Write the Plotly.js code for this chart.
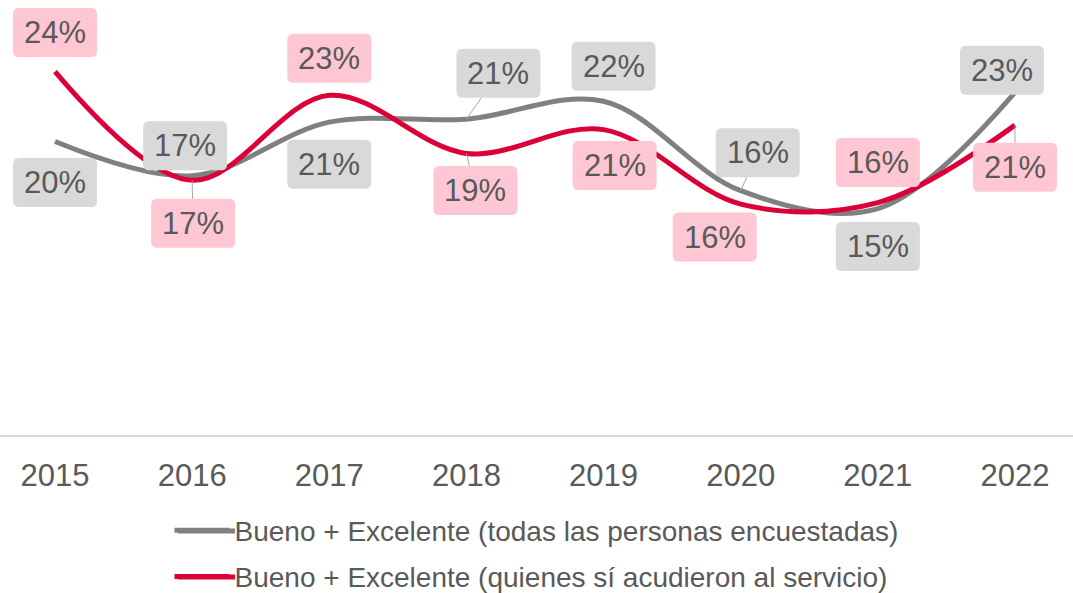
<!DOCTYPE html>
<html>
<head>
<meta charset="utf-8">
<script src="https://cdn.plot.ly/plotly-3.0.1.min.js"></script>
<style>
html,body{margin:0;padding:0;background:#fff;}
#chart{width:1073px;height:593px;}
</style>
</head>
<body>
<div id="chart"></div>
<script>
const years = ['2015','2016','2017','2018','2019','2020','2021','2022'];
const seriesNames = ['Bueno + Excelente (todas las personas encuestadas)',
                     'Bueno + Excelente (quienes sí acudieron al servicio)'];
const todas = [19.7, 17.4, 21.0, 21.2, 22.4, 16.4, 15.2, 23.0];
const acudieron = [24.4, 17.1, 22.8, 18.9, 20.5, 15.5, 15.6, 20.8];
const todasLabels = ['20%','17%','21%','21%','22%','16%','15%','23%'];
const acudieronLabels = ['24%','17%','23%','19%','21%','16%','16%','21%'];

// label placement (pixel offsets from point) and leader visibility
const todasOff = [[0,41],[-7,-30],[0,42],[32,-46],[10,-35],[17,-38],[0,38],[-13,-22]];
const todasLeader = [false,false,false,true,false,true,false,false];
const acudOff = [[0,-39],[1,43],[0,-37],[9,37],[11,36],[-26,33],[0,-40],[0,42]];
const acudLeader = [false,true,false,true,false,false,false,true];

const GRAY = '#808080', RED = '#DC0039';
const GRAYBOX = '#D9D9D9', PINKBOX = '#FFC7D3';
const TXT = '#595959';
const FONT = 'Liberation Sans, Arial, sans-serif';
const BOXW = 84, BOXH = 49, RAD = 6;
const W = 1073, H = 593, MB = 158, PH = H - MB;

const traces = [
  {x: years, y: todas, name: seriesNames[0], type: 'scatter', mode: 'lines',
   line: {color: GRAY, width: 5, shape: 'spline', smoothing: 1}, legendgroup: 'a', hoverinfo: 'skip'},
  {x: years, y: acudieron, name: seriesNames[1], type: 'scatter', mode: 'lines',
   line: {color: RED, width: 5, shape: 'spline', smoothing: 1}, legendgroup: 'b', hoverinfo: 'skip'}
];

function makeAnn(vals, labels, offs, leaders) {
  return vals.map((v, i) => ({
    x: i, y: v, xref: 'x', yref: 'y',
    text: labels[i], showarrow: true,
    ax: offs[i][0], ay: offs[i][1],
    arrowhead: 0, arrowwidth: 1,
    arrowcolor: leaders[i] ? '#A6A6A6' : 'rgba(0,0,0,0)',
    bgcolor: 'rgba(0,0,0,0)', borderpad: 7, borderwidth: 0,
    width: BOXW - 14, height: BOXH - 14,
    font: {family: FONT, size: 31, color: TXT}
  }));
}

function roundBox(cx, cy, w, h, r) {
  const xl = cx - w / 2, xr = cx + w / 2, yb = cy - h / 2, yt = cy + h / 2;
  return `M${xl + r},${yb} L${xr - r},${yb} Q${xr},${yb} ${xr},${yb + r} L${xr},${yt - r} Q${xr},${yt} ${xr - r},${yt} ` +
         `L${xl + r},${yt} Q${xl},${yt} ${xl},${yt - r} L${xl},${yb + r} Q${xl},${yb} ${xl + r},${yb} Z`;
}

function makeBoxes(vals, offs, fill) {
  return vals.map((v, i) => ({
    type: 'path', xref: 'x', yref: 'y',
    xsizemode: 'pixel', ysizemode: 'pixel', xanchor: i, yanchor: v,
    path: roundBox(offs[i][0], -offs[i][1], BOXW, BOXH, RAD),
    fillcolor: fill, line: {width: 0}, layer: 'above'
  }));
}

// longer legend swatches (paper coordinates)
const legendRowsPx = [531, 577];
const legendSwatches = [GRAY, RED].map((c, k) => ({
  type: 'line', xref: 'paper', yref: 'paper',
  x0: 178 / W, x1: 235 / W,
  y0: (PH - legendRowsPx[k]) / PH, y1: (PH - legendRowsPx[k]) / PH,
  line: {color: c, width: 5}, layer: 'above'
}));

const annotations = [].concat(
  makeAnn(todas, todasLabels, todasOff, todasLeader),
  makeAnn(acudieron, acudieronLabels, acudOff, acudLeader)
);
const shapes = [].concat(
  makeBoxes(todas, todasOff, GRAYBOX),
  makeBoxes(acudieron, acudOff, PINKBOX),
  legendSwatches
);

const layout = {
  width: W, height: H,
  margin: {l: 0, r: 0, t: 0, b: MB, pad: 0, autoexpand: false},
  paper_bgcolor: '#fff', plot_bgcolor: '#fff',
  font: {family: FONT, color: TXT},
  xaxis: {
    type: 'category', range: [-0.401, 7.423],
    showline: true, linecolor: '#D9D9D9', linewidth: 2,
    showgrid: false, zeroline: false,
    ticks: 'outside', ticklen: 12, tickcolor: 'rgba(0,0,0,0)',
    tickfont: {family: FONT, size: 31, color: TXT}
  },
  yaxis: {range: [0, 29.2], visible: false, showgrid: false, zeroline: false},
  showlegend: true,
  legend: {
    orientation: 'v', x: 0.5, xanchor: 'center', y: -0.162, yanchor: 'top',
    font: {family: FONT, size: 28, color: TXT}, tracegroupgap: 7,
    itemwidth: 55, bgcolor: 'rgba(0,0,0,0)'
  },
  shapes: shapes,
  annotations: annotations
};

Plotly.newPlot('chart', traces, layout, {displayModeBar: false, staticPlot: true});
</script>
</body>
</html>
